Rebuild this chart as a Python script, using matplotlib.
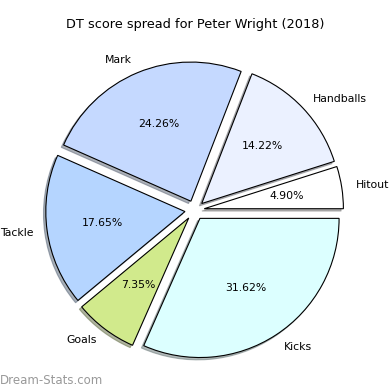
import matplotlib
matplotlib.use("Agg")
import matplotlib.pyplot as plt

labels = ["Hitout", "Handballs", "Mark", "Tackle", "Goals", "Kicks"]
values = [20, 58, 99, 72, 30, 129]
colors = ["#ffffff", "#ebf1ff", "#c5d9ff", "#b5d5ff", "#d1ea8c", "#dcffff"]
explode = [0.07] * 6

fig = plt.figure(figsize=(3.9, 3.9), dpi=100)
ax = fig.add_axes([0.053, 0.015, 0.892, 0.892])
ax.pie(values, labels=labels, colors=colors, explode=explode, autopct="%1.2f%%",
       shadow={"ox": -0.012, "oy": -0.012, "shade": 0.55}, startangle=0,
       wedgeprops=dict(edgecolor="black", linewidth=0.8),
       textprops=dict(fontsize=7.8))
ax.set_aspect("equal")
fig.text(0.5, 0.936, "DT score spread for Peter Wright (2018)", ha="center", va="center", fontsize=9.3)
fig.text(0.0, 0.025, "Dream-Stats.com", ha="left", va="center", fontsize=8.5, color="#999999")
fig.savefig("out.png", dpi=100)
